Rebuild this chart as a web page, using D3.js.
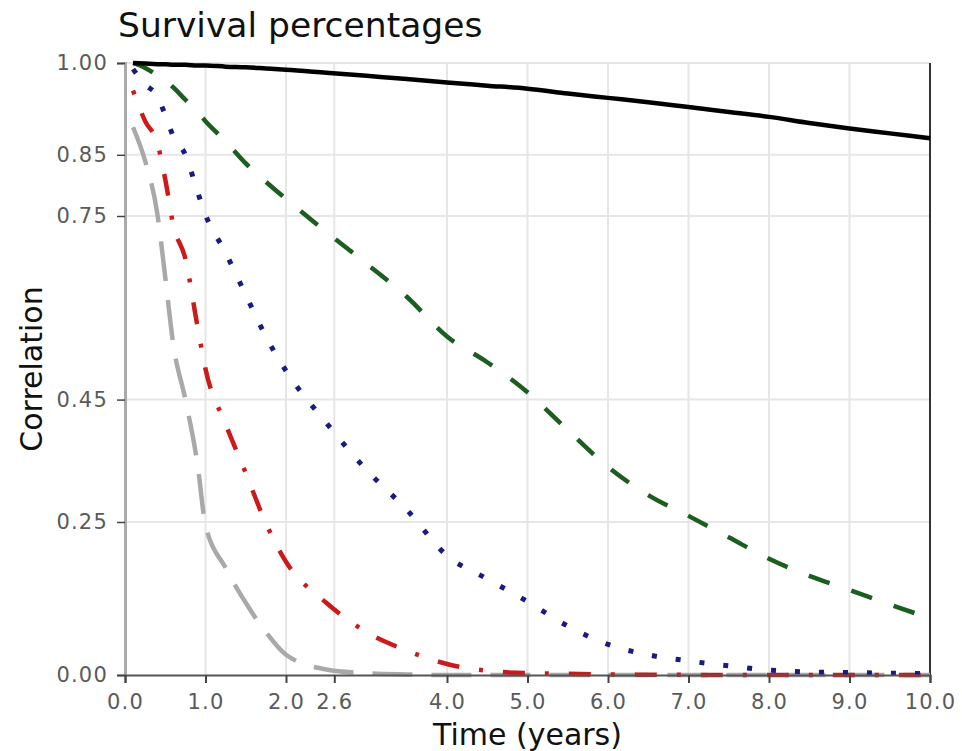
<!DOCTYPE html>
<html>
<head>
<meta charset="utf-8">
<script src="https://cdn.jsdelivr.net/npm/d3@7"></script>
<style>
  body { margin: 0; background: #fff; }
  text { font-family: "DejaVu Sans", sans-serif; }
</style>
</head>
<body>
<script>
// Data
var timeYears = [0.1, 0.25, 0.4, 0.5, 0.6, 0.75, 0.9, 1.0, 1.25, 1.5, 1.75, 2.0, 2.5, 3.0, 3.5, 4.0, 4.5, 5.0, 5.5, 6.0, 6.5, 7.0, 7.5, 8.0, 8.5, 9.0, 9.5, 10.0];

var solidBlack = [1.0, 0.999, 0.998, 0.998, 0.997, 0.997, 0.996, 0.996, 0.994, 0.993, 0.991, 0.989, 0.984, 0.979, 0.974, 0.968, 0.963, 0.958, 0.95, 0.943, 0.936, 0.928, 0.92, 0.912, 0.902, 0.893, 0.885, 0.877];
var dashedGreen = [1.0, 0.992, 0.98, 0.972, 0.96, 0.94, 0.92, 0.905, 0.872, 0.836, 0.806, 0.778, 0.724, 0.672, 0.618, 0.553, 0.511, 0.462, 0.40, 0.34, 0.294, 0.26, 0.225, 0.19, 0.162, 0.139, 0.115, 0.093];
var dottedBlue = [0.99, 0.965, 0.946, 0.915, 0.88, 0.85, 0.79, 0.752, 0.69, 0.621, 0.553, 0.497, 0.412, 0.335, 0.27, 0.195, 0.157, 0.12, 0.08, 0.05, 0.033, 0.023, 0.015, 0.008, 0.005, 0.004, 0.003, 0.002];
var dotdashRed = [0.955, 0.905, 0.87, 0.81, 0.735, 0.68, 0.57, 0.50, 0.41, 0.33, 0.248, 0.185, 0.118, 0.07, 0.04, 0.018, 0.007, 0.003, 0.002, 0.001, 0.0005, 0.0003, 0, 0, 0, 0, 0, 0];
var longdashGrey = [0.895, 0.84, 0.755, 0.65, 0.54, 0.45, 0.345, 0.245, 0.175, 0.118, 0.07, 0.033, 0.009, 0.003, 0.001, 0, 0, 0, 0, 0, 0, 0, 0, 0, 0, 0, 0, 0];

var xTicks = [0.0, 1.0, 2.0, 2.6, 4.0, 5.0, 6.0, 7.0, 8.0, 9.0, 10.0];
var yTicks = [0.00, 0.25, 0.45, 0.75, 0.85, 1.00];

var series = [
  { values: longdashGrey, color: "#a9a9a9", dash: "40,19", width: 4.5 },
  { values: dotdashRed, color: "#cc1a1a", dash: "4,20,22,20", width: 4.5 },
  { values: dottedBlue, color: "#1a1a80", dash: "5,19", width: 5 },
  { values: dashedGreen, color: "#1b5e20", dash: "22,23", width: 4.5 },
  { values: solidBlack, color: "#000000", dash: null, width: 4.5 }
];

var width = 962, height = 751;
var margin = {top: 63, right: 32, bottom: 76, left: 125};

var svg = d3.select("body")
            .append("svg")
            .attr("width", width)
            .attr("height", height);

svg.append("rect").attr("width", width).attr("height", height).attr("fill", "#fff");

var x = d3.scaleLinear().domain([0, 10]).range([margin.left, width - margin.right]);
var y = d3.scaleLinear().domain([0, 1]).range([height - margin.bottom, margin.top]);

// grid lines
svg.selectAll(".vgrid")
   .data(xTicks.filter(function(d){ return d > 0 && d < 10; }))
   .enter()
   .append("line")
   .attr("stroke", "#e6e6e6")
   .attr("stroke-width", 2)
   .attr("x1", function(d){ return x(d); })
   .attr("x2", function(d){ return x(d); })
   .attr("y1", y(0))
   .attr("y2", y(1));

svg.selectAll(".hgrid")
   .data(yTicks.filter(function(d){ return d > 0; }))
   .enter()
   .append("line")
   .attr("stroke", "#e6e6e6")
   .attr("stroke-width", 2)
   .attr("x1", x(0))
   .attr("x2", x(10))
   .attr("y1", function(d){ return y(d); })
   .attr("y2", function(d){ return y(d); });

// right border
svg.append("line")
   .attr("stroke", "#333")
   .attr("stroke-width", 2)
   .attr("x1", x(10)).attr("x2", x(10))
   .attr("y1", y(1)).attr("y2", y(0));

// lines
var line = d3.line()
             .curve(d3.curveMonotoneX)
             .x(function(d, i){ return x(timeYears[i]); })
             .y(function(d){ return y(d); });

series.forEach(function(s){
  svg.append("path")
     .attr("d", line(s.values))
     .attr("fill", "none")
     .attr("stroke", s.color)
     .attr("stroke-width", s.width)
     .attr("stroke-dasharray", s.dash);
});

// axes
var yAxis = svg.append("g")
               .attr("transform", "translate(" + x(0) + ",0)")
               .call(d3.axisLeft(y).tickValues(yTicks).tickFormat(d3.format(".2f")).tickSize(8).tickPadding(9));
yAxis.select(".domain").attr("stroke", "#aaa").attr("stroke-width", 3);
yAxis.selectAll(".tick line").attr("stroke", "#444").attr("stroke-width", 1.5);
yAxis.selectAll(".tick text")
     .attr("fill", "#5a5a5a")
     .style("font-size", "21px")
     .style("letter-spacing", "1.2px");

var xAxis = svg.append("g")
               .attr("transform", "translate(0," + y(0) + ")")
               .call(d3.axisBottom(x).tickValues(xTicks).tickFormat(d3.format(".1f")).tickSize(8).tickPadding(11));
xAxis.select(".domain").attr("stroke", "#555").attr("stroke-width", 2);
xAxis.selectAll(".tick line").attr("stroke", "#444").attr("stroke-width", 2);
xAxis.selectAll(".tick text")
     .attr("fill", "#5a5a5a")
     .style("font-size", "21px")
     .style("letter-spacing", "1.2px");

// titles
svg.append("text")
   .attr("x", 118)
   .attr("y", 37)
   .attr("fill", "#111")
   .style("font-size", "34.5px")
   .text("Survival percentages");

svg.append("text")
   .attr("transform", "translate(42," + (y(0) + y(1)) / 2 + ") rotate(-90)")
   .attr("text-anchor", "middle")
   .attr("fill", "#111")
   .style("font-size", "30px")
   .text("Correlation");

svg.append("text")
   .attr("x", (x(0) + x(10)) / 2)
   .attr("y", 745)
   .attr("text-anchor", "middle")
   .attr("fill", "#111")
   .style("font-size", "30px")
   .text("Time (years)");
</script>
</body>
</html>
